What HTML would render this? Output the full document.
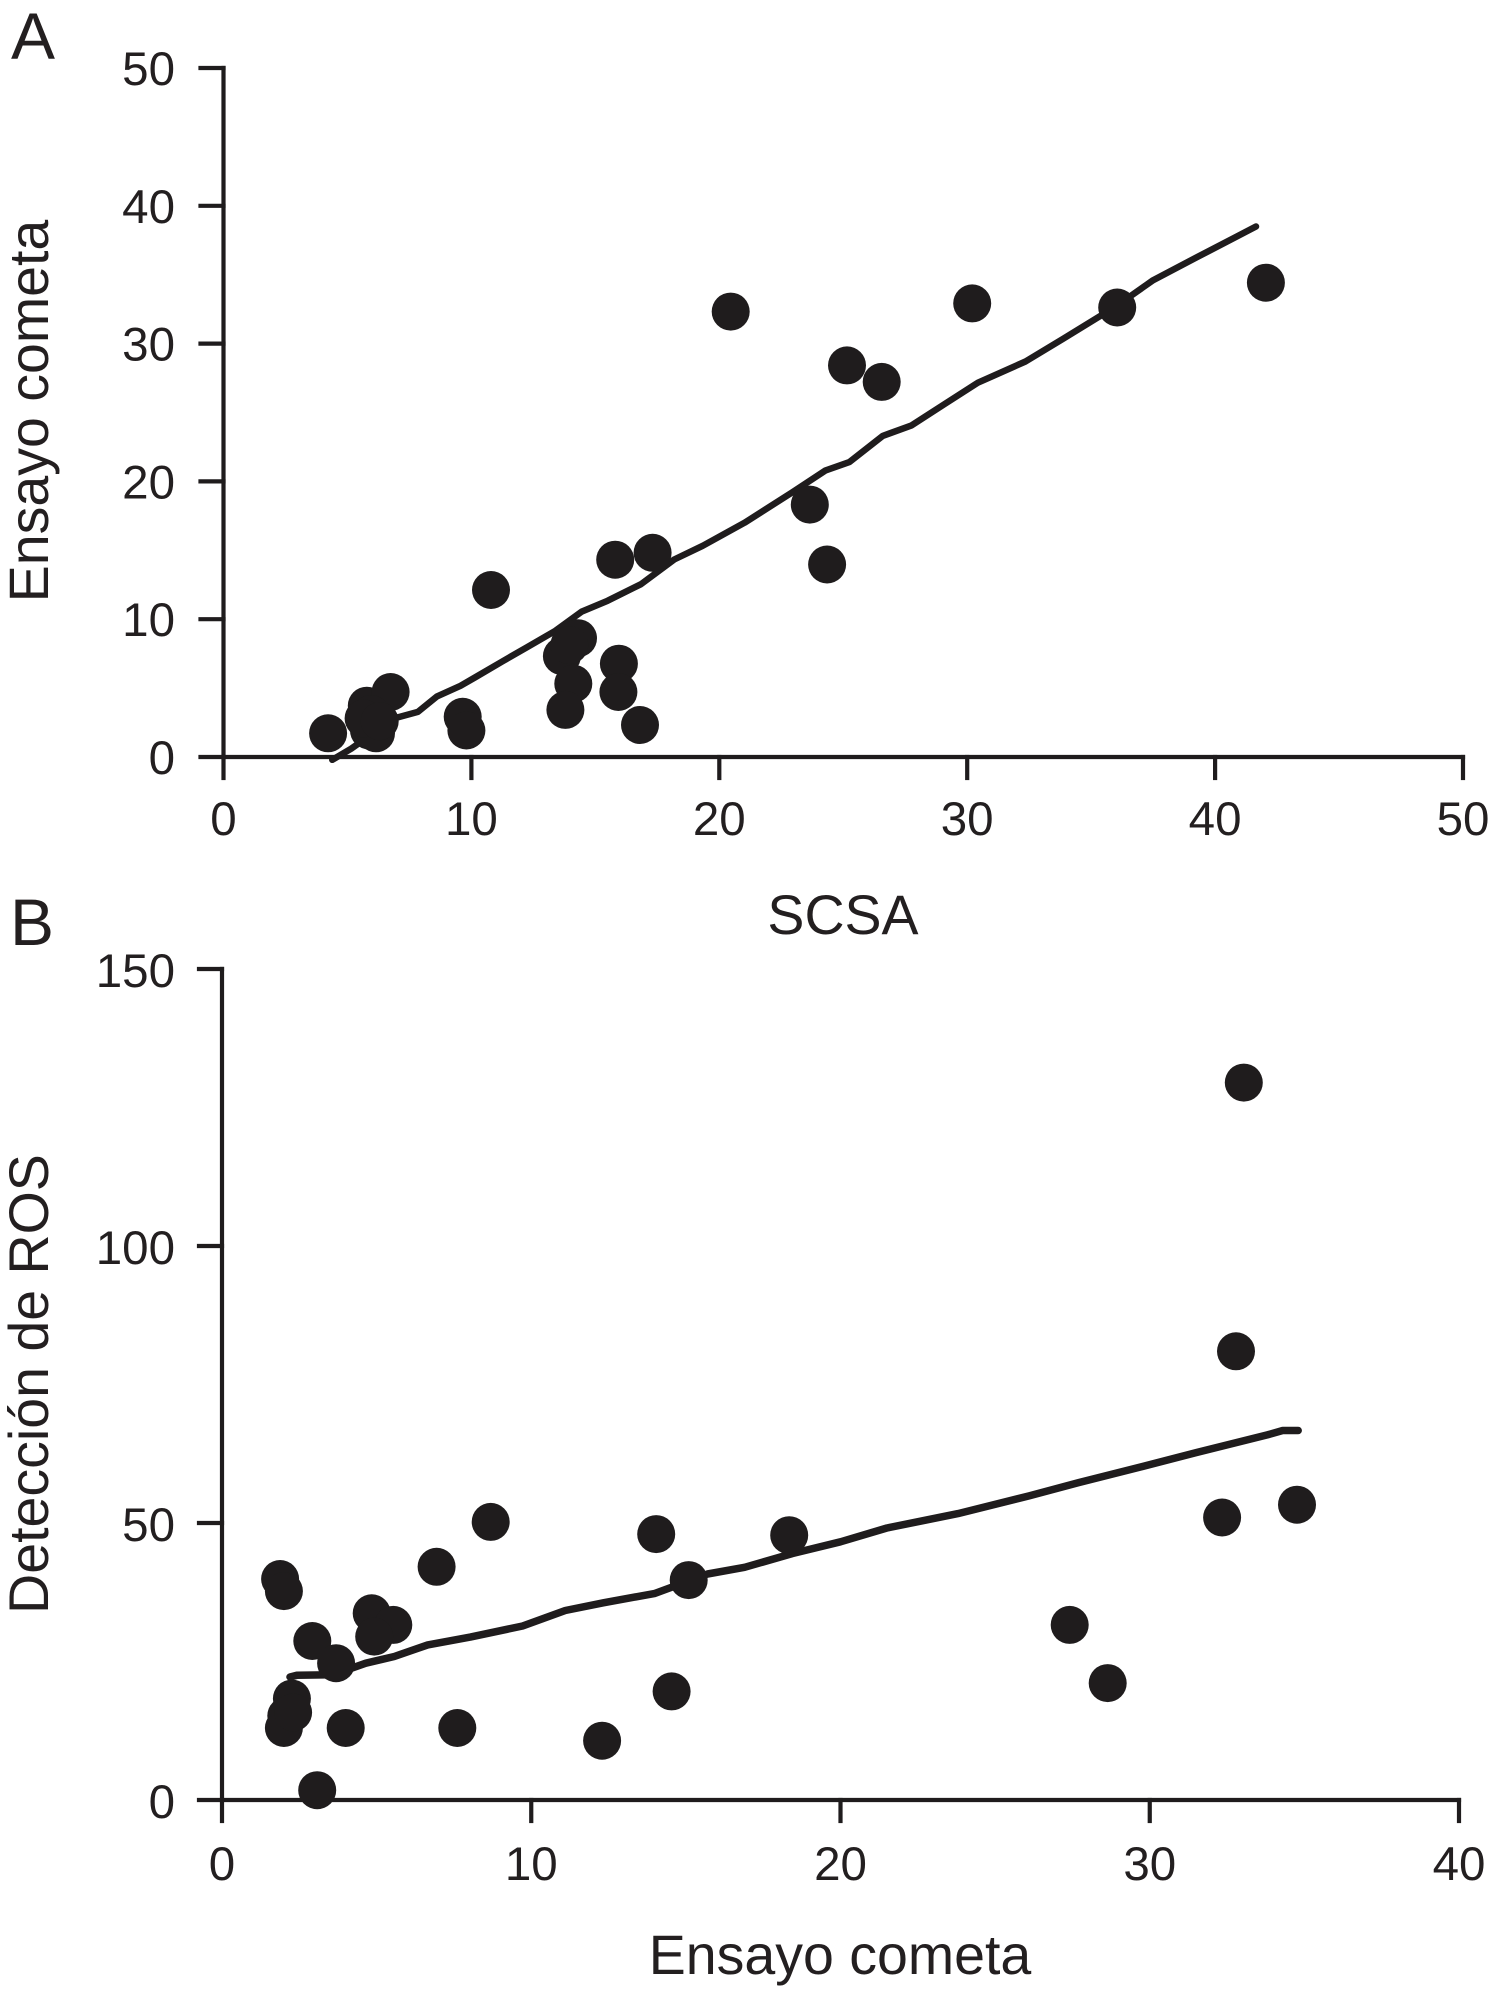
<!DOCTYPE html>
<html lang="es">
<head>
<meta charset="utf-8">
<title>SCSA, Ensayo cometa y ROS</title>
<style>
  html, body { margin: 0; padding: 0; background: #fff; }
  svg { display: block; }
  text { font-family: "Liberation Sans", sans-serif; fill: #231f20; }
  .tick { font-size: 47.5px; }
  .title { font-size: 55.5px; }
  .panel { font-size: 66px; }
</style>
</head>
<body>
<svg id="figure" xmlns="http://www.w3.org/2000/svg" width="1491" height="2001" viewBox="0 0 1491 2001">
  <rect x="0" y="0" width="1491" height="2001" fill="#fff"/>
  <g id="chart-a">
    <text class="panel" x="11" y="59">A</text>
    <text class="title" x="843" y="934" text-anchor="middle">SCSA</text>
    <text class="title" transform="translate(48 411) rotate(-90)" text-anchor="middle">Ensayo cometa</text>
  </g>
  <g id="chart-b">
    <text class="panel" x="10" y="945">B</text>
    <text class="title" x="840" y="1974" text-anchor="middle">Ensayo cometa</text>
    <text class="title" transform="translate(48 1384) rotate(-90)" text-anchor="middle">Detección de ROS</text>
  </g>
</svg>
<script>
// Panel A data
const aXTicks = [0, 10, 20, 30, 40, 50];
const aYTicks = [0, 10, 20, 30, 40, 50];
const aPointsX = [4.22, 5.78, 5.87, 6.74, 5.95, 6.15, 5.65, 6.3, 9.65, 9.8, 10.79, 13.65, 14.3, 13.95, 14.11, 13.79, 15.95, 15.93, 16.8, 15.8, 17.31, 20.46, 25.15, 26.55, 30.2, 36.05, 42.05, 23.65, 24.35];
const aPointsY = [1.72, 3.72, 1.92, 4.72, 3.12, 1.72, 2.8, 2.6, 2.92, 1.92, 12.12, 7.32, 8.62, 8.12, 5.32, 3.42, 6.77, 4.72, 2.32, 14.32, 14.82, 32.32, 28.42, 27.22, 32.92, 32.62, 34.42, 18.32, 13.97];
const aLineX = [4.39, 5.15, 6.88, 7.84, 8.6, 9.56, 10.14, 11.28, 12.24, 13.39, 14.45, 15.5, 16.84, 18.18, 19.33, 21.02, 22.94, 24.29, 25.25, 26.59, 27.74, 29.08, 30.43, 32.35, 33.88, 36, 37.5, 39.26, 40.8, 41.65];
const aLineY = [-0.2, 0.6, 2.8, 3.27, 4.38, 5.17, 5.77, 6.97, 7.96, 9.16, 10.55, 11.34, 12.54, 14.33, 15.33, 17.0, 19.2, 20.8, 21.4, 23.3, 24.05, 25.6, 27.16, 28.7, 30.36, 32.7, 34.6, 36.26, 37.7, 38.5];

// Panel B data
const bXTicks = [0, 10, 20, 30, 40];
const bYTicks = [0, 50, 100, 150];
const bPointsX = [1.88, 2.0, 2.92, 3.69, 4.84, 5.54, 4.92, 2.26, 2.08, 2.0, 2.3, 4.0, 7.61, 6.94, 8.69, 14.04, 15.09, 14.54, 12.29, 3.08, 18.34, 27.41, 28.64, 32.34, 34.76, 32.79, 33.04];
const bPointsY = [39.9, 37.7, 28.7, 24.7, 33.7, 31.6, 29.5, 18.3, 15.2, 13.0, 15.8, 13.0, 13.0, 42.1, 50.2, 48.0, 39.7, 19.6, 10.7, 1.76, 47.8, 31.6, 21.1, 51.0, 53.3, 81.0, 129.5];
const bLineX = [2.2, 2.42, 3.58, 4.65, 5.57, 6.65, 8.03, 9.72, 11.1, 12.33, 14, 15.7, 16.9, 18.45, 20, 21.5, 23.8, 26.1, 27.7, 29.7, 31.5, 33.8, 34.3, 34.8];
const bLineY = [22.2, 22.5, 22.6, 24.7, 25.9, 28, 29.4, 31.4, 34.2, 35.6, 37.3, 40.8, 42, 44.5, 46.6, 49.1, 51.7, 54.9, 57.3, 60.1, 62.7, 65.9, 66.7, 66.7];

const SVG_NS = 'http://www.w3.org/2000/svg';
const INK = '#1f1c1d';

function linearScale(d0, d1, r0, r1) {
  return function (v) { return r0 + (v - d0) * (r1 - r0) / (d1 - d0); };
}

function axisLine(parent, x1, y1, x2, y2) {
  const l = document.createElementNS(SVG_NS, 'line');
  l.setAttribute('x1', x1);
  l.setAttribute('y1', y1);
  l.setAttribute('x2', x2);
  l.setAttribute('y2', y2);
  l.setAttribute('stroke', INK);
  l.setAttribute('stroke-width', 4.2);
  l.setAttribute('stroke-linecap', 'square');
  parent.appendChild(l);
  return l;
}

function tickLabel(parent, x, y, anchor, value) {
  const t = document.createElementNS(SVG_NS, 'text');
  t.setAttribute('class', 'tick');
  t.setAttribute('x', x);
  t.setAttribute('y', y);
  t.setAttribute('text-anchor', anchor);
  t.textContent = String(value);
  parent.appendChild(t);
  return t;
}

function drawChart(opts) {
  const g = document.getElementById(opts.id);
  const sx = opts.sx, sy = opts.sy;

  const xAxis = axisLine(g, sx(opts.xTicks[0]), sy(opts.yTicks[0]), sx(opts.xTicks[opts.xTicks.length - 1]), sy(opts.yTicks[0]));
  
  
  const yAxis = axisLine(g, sx(opts.xTicks[0]), sy(opts.yTicks[0]), sx(opts.xTicks[0]), sy(opts.yTicks[opts.yTicks.length - 1]));
  
  

  opts.xTicks.forEach(function (v) {
    const tk = axisLine(g, sx(v), sy(0), sx(v), sy(0) + 21);
    
    
    const lb = tickLabel(g, sx(v), opts.xLabelY, 'middle', v);
    
    
  });

  opts.yTicks.forEach(function (v) {
    const tk = axisLine(g, sx(0) - 23, sy(v), sx(0), sy(v));
    
    
    const lb = tickLabel(g, 175, sy(v) + opts.yLabelDy, 'end', v);
    
    
  });

  const pts = opts.lineX.map(function (x, i) { return sx(x).toFixed(1) + ',' + sy(opts.lineY[i]).toFixed(1); }).join(' ');
  const trend = document.createElementNS(SVG_NS, 'polyline');
  trend.setAttribute('points', pts);
  trend.setAttribute('fill', 'none');
  trend.setAttribute('stroke', INK);
  trend.setAttribute('stroke-width', opts.lineWidth);
  trend.setAttribute('stroke-linejoin', 'round');
  trend.setAttribute('stroke-linecap', 'round');
  
  
  g.appendChild(trend);

  opts.pointsX.forEach(function (x, i) {
    const c = document.createElementNS(SVG_NS, 'circle');
    c.setAttribute('cx', sx(x).toFixed(1));
    c.setAttribute('cy', sy(opts.pointsY[i]).toFixed(1));
    c.setAttribute('r', 19);
    c.setAttribute('fill', INK);
    
    
    g.appendChild(c);
  });
}

drawChart({
  id: 'chart-a',
  xTicks: aXTicks, yTicks: aYTicks,
  pointsX: aPointsX, pointsY: aPointsY,
  lineX: aLineX, lineY: aLineY,
  sx: linearScale(0, 50, 223.5, 1463),
  sy: linearScale(0, 50, 757, 68),
  xLabelY: 835, yLabelDy: 17, lineWidth: 6.5
});

drawChart({
  id: 'chart-b',
  xTicks: bXTicks, yTicks: bYTicks,
  pointsX: bPointsX, pointsY: bPointsY,
  lineX: bLineX, lineY: bLineY,
  sx: linearScale(0, 40, 222, 1459),
  sy: linearScale(0, 150, 1800, 969),
  xLabelY: 1880, yLabelDy: 18, lineWidth: 7.5
});
</script>
</body>
</html>
